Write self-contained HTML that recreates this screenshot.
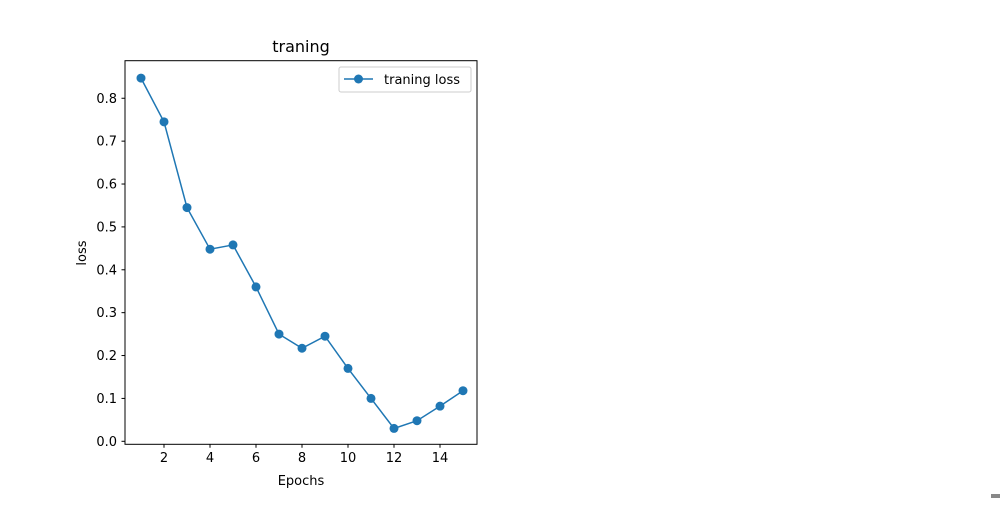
<!DOCTYPE html>
<html><head><meta charset="utf-8"><style>
body{margin:0;background:#fff;width:1000px;height:500px;overflow:hidden}
svg{font-family:"DejaVu Sans","Liberation Sans",sans-serif}
</style></head><body>
<svg id="chart" width="1000" height="500">
<text x="301" y="52" font-size="16" text-anchor="middle">traning</text>
<rect x="125" y="60.7" width="352" height="383.6" fill="none" stroke="#000" stroke-width="1"/>
<g id="xt"></g>
<g id="yt"></g>
<text x="301" y="485" font-size="13" text-anchor="middle">Epochs</text>
<text transform="translate(86,253) rotate(-90)" font-size="13" text-anchor="middle">loss</text>
<g id="series"></g>
<g>
<rect x="339" y="67" width="132" height="25" rx="2" fill="#fff" stroke="#ccc"/>
<line x1="344" y1="79" x2="373" y2="79" stroke="#1f77b4" stroke-width="1.5"/>
<circle cx="358.5" cy="79" r="4.5" fill="#1f77b4"/>
<text x="384" y="84" font-size="13">traning loss</text>
</g>
<rect x="991" y="494" width="9" height="4" fill="#888"/>
</svg>
<script>
const epochs=[1,2,3,4,5,6,7,8,9,10,11,12,13,14,15];
const losses=[0.847,0.745,0.545,0.448,0.458,0.36,0.25,0.217,0.245,0.17,0.10,0.03,0.048,0.082,0.118];
const xTicks=[2,4,6,8,10,12,14];
const yTicks=[0.0,0.1,0.2,0.3,0.4,0.5,0.6,0.7,0.8];
const NS="http://www.w3.org/2000/svg";
const X=v=>141+(v-1)*23.0;
const Y=v=>441.3-v*428.8;
function mk(t,a,p){const e=document.createElementNS(NS,t);for(const k in a)e.setAttribute(k,a[k]);p.appendChild(e);return e;}
const xt=document.getElementById('xt'),yt=document.getElementById('yt'),s=document.getElementById('series');
xTicks.forEach(v=>{
 mk('line',{x1:X(v),x2:X(v),y1:444.3,y2:447.8,stroke:'#000'},xt);
 const t=mk('text',{x:X(v),y:462,'font-size':13,'text-anchor':'middle'},xt);t.textContent=v;
 
 
});
yTicks.forEach(v=>{
 mk('line',{x1:121.5,x2:125,y1:Y(v),y2:Y(v),stroke:'#000'},yt);
 const t=mk('text',{x:117,y:Y(v)+4.5,'font-size':13,'text-anchor':'end'},yt);t.textContent=v.toFixed(1);
 
 
});
const pl=mk('polyline',{points:epochs.map((e,i)=>X(e)+','+Y(losses[i])).join(' '),fill:'none',stroke:'#1f77b4','stroke-width':1.5},s);


epochs.forEach((e,i)=>{
 const c=mk('circle',{cx:X(e),cy:Y(losses[i]),r:4.5,fill:'#1f77b4'},s);
 
 
});
</script>
</body></html>
